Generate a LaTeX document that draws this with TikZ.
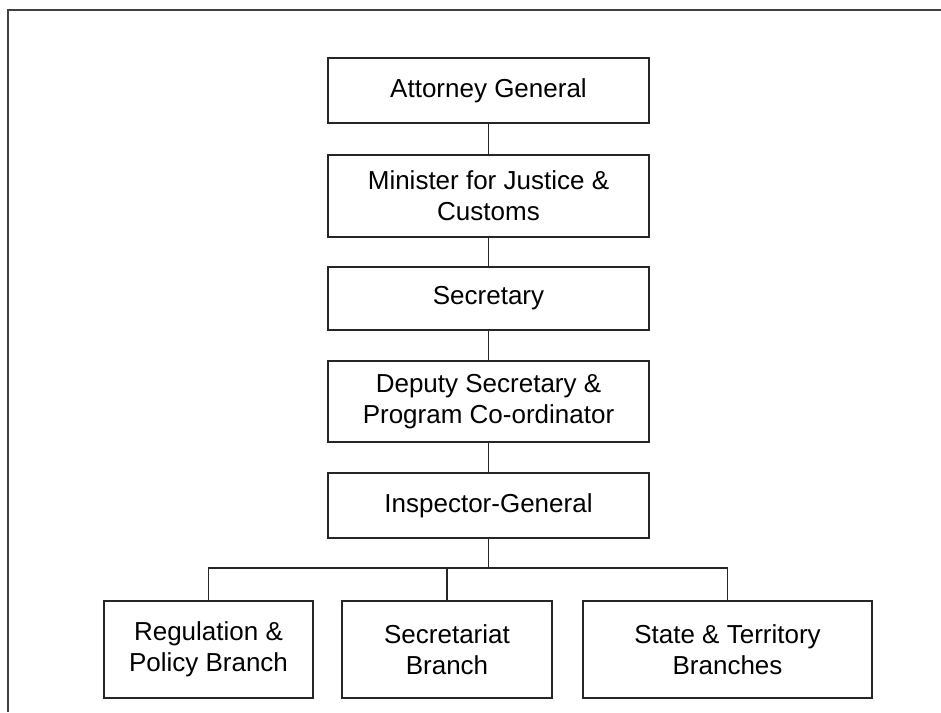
\documentclass[tikz,border=0pt]{standalone}
\usepackage{fontspec}
\setmainfont{Liberation Sans}
\usepackage{tikz}
\usetikzlibrary{shapes, positioning}

\begin{document}
\begin{tikzpicture}
  [
    x=1pt, y=-1pt,
    Box/.style={rectangle, draw=black!85, line width=1.8pt, align=center, inner sep=0pt,
      font=\fontsize{26}{31}\selectfont, minimum width=321pt},
    Branch/.style={Box, minimum height=97pt},
    Frame/.style={draw=black!75, line width=2pt},
    Link/.style={draw=black!85, line width=1.5pt}
  ]
  \useasboundingbox (0, 0) rectangle (941, 712);

  % Frame
  \path [Frame] (941, 10) -- (8, 10) -- (8, 712);

  % Nodes
  \node[Box, minimum height=65pt] (ag) at(488.5, 90.5) {Attorney General};

  \node[Box, minimum height=82pt] (min) at(488.5, 196) {Minister for Justice \&\\Customs};

  \node[Box, minimum height=63pt] (sec) at(488.5, 298.5) {Secretary};

  \node[Box, minimum height=81pt] (dep) at(488.5, 401.5) {Deputy Secretary \&\\Program Co-ordinator};

  \node[Box, minimum height=65pt] (insp) at(488.5, 505.5) {Inspector-General};

  \node[Branch, minimum width=209pt] (reg) at(208.5, 649.5) {Regulation \&\\Policy Branch};

  \node[Branch, minimum width=210pt] (secr) at(447, 649.5) {Secretariat\\Branch};

  \node[Branch, minimum width=289pt] (state) at(727.5, 649.5) {State \& Territory\\Branches};

  \coordinate (bus) at(486, 568);

  % Lines
  \path [Link] (ag) -- (min);
  \path [Link] (min) -- (sec);
  \path [Link] (sec) -- (dep);
  \path [Link] (dep) -- (insp);
  \path [Link] (insp.south) -- (insp.south |- bus);
  \path [Link] (reg.north) |- (bus) -| (state.north);
  \path [Link] (secr.north) -- (secr.north |- bus);

\end{tikzpicture}
\end{document}
